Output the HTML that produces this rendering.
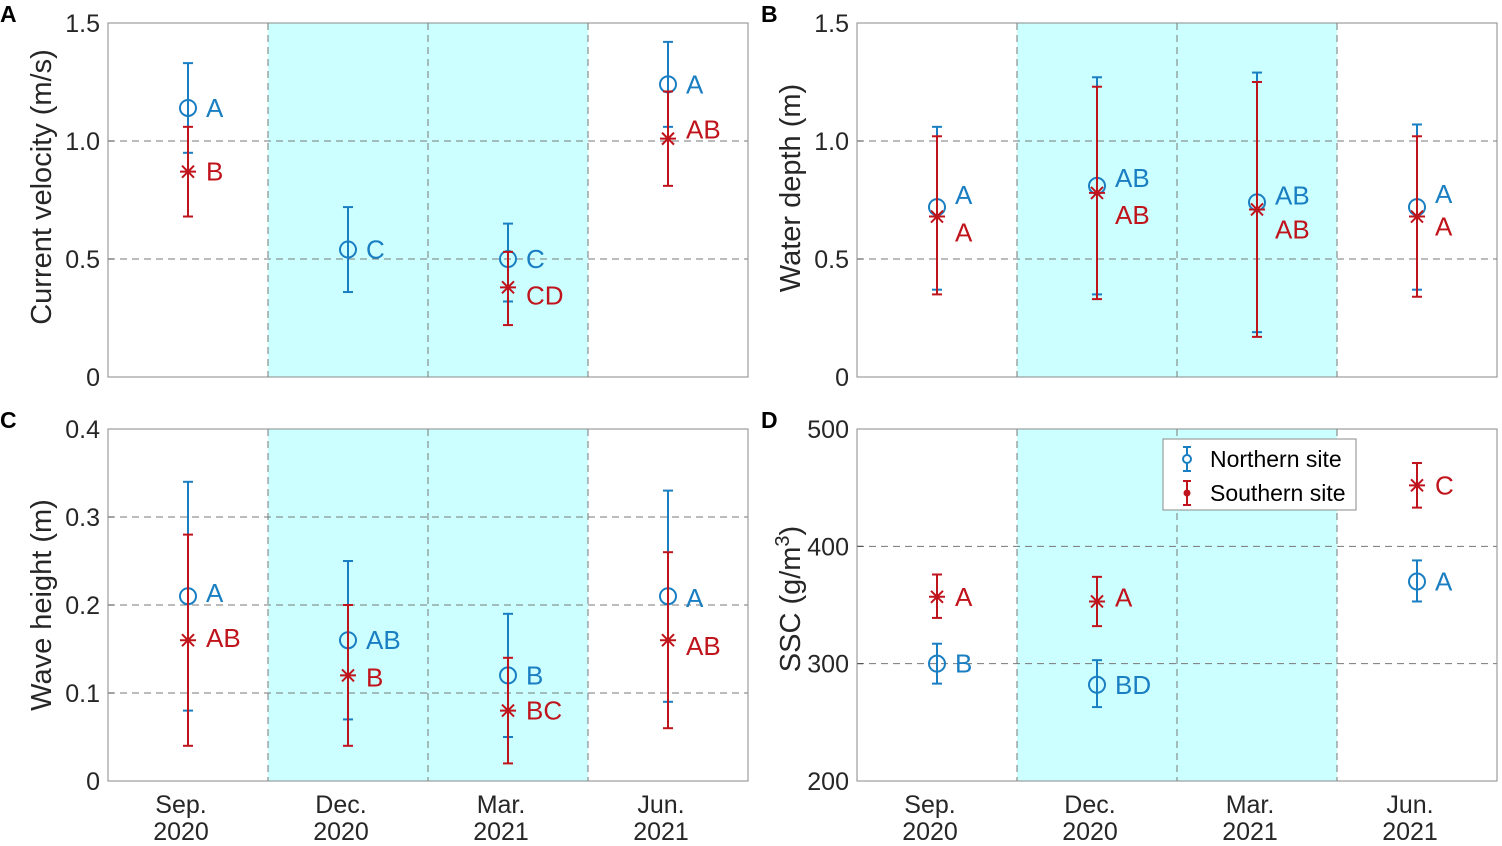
<!DOCTYPE html>
<html><head><meta charset="utf-8">
<style>
body{margin:0;background:#fff;}
svg{display:block;font-family:"Liberation Sans",Arial,sans-serif;}
</style></head>
<body>
<svg id="fig" width="1502" height="846" viewBox="0 0 1502 846"></svg>
<script>
const categories = ["Sep.|2020","Dec.|2020","Mar.|2021","Jun.|2021"];
// Panel A current velocity
const aNorth = [1.14,0.54,0.50,1.24];
const aNorthLo = [0.95,0.36,0.32,1.06];
const aNorthHi = [1.33,0.72,0.65,1.42];
const aNorthLbl = ["A","C","C","A"];
const aSouth = [0.87,null,0.38,1.01];
const aSouthLo = [0.68,null,0.22,0.81];
const aSouthHi = [1.06,null,0.53,1.21];
const aSouthLbl = ["B","","CD","AB"];
// Panel B water depth
const bNorth = [0.72,0.81,0.74,0.72];
const bNorthLo = [0.37,0.35,0.19,0.37];
const bNorthHi = [1.06,1.27,1.29,1.07];
const bNorthLbl = ["A","AB","AB","A"];
const bSouth = [0.68,0.78,0.71,0.68];
const bSouthLo = [0.35,0.33,0.17,0.34];
const bSouthHi = [1.02,1.23,1.25,1.02];
const bSouthLbl = ["A","AB","AB","A"];
// Panel C wave height
const cNorth = [0.21,0.16,0.12,0.21];
const cNorthLo = [0.08,0.07,0.05,0.09];
const cNorthHi = [0.34,0.25,0.19,0.33];
const cNorthLbl = ["A","AB","B","A"];
const cSouth = [0.16,0.12,0.08,0.16];
const cSouthLo = [0.04,0.04,0.02,0.06];
const cSouthHi = [0.28,0.20,0.14,0.26];
const cSouthLbl = ["AB","B","BC","AB"];
// Panel D SSC
const dNorth = [300,282,null,370];
const dNorthLo = [283,263,null,353];
const dNorthHi = [317,303,null,388];
const dNorthLbl = ["B","BD","","A"];
const dSouth = [357,353,null,452];
const dSouthLo = [339,332,null,433];
const dSouthHi = [376,374,null,471];
const dSouthLbl = ["A","A","","C"];

const NS="http://www.w3.org/2000/svg";
const svg=document.getElementById('fig');
const BLUE="#1a7fc2", RED="#c0141c";
function el(tag,attrs,parent){const e=document.createElementNS(NS,tag);for(const k in attrs)e.setAttribute(k,attrs[k]);(parent||svg).appendChild(e);return e;}

function panel(o){
  const g=el('g',{});
  
  
  const {x0,x1,y0,y1,min,max}=o;
  const sx=i=>x0+(i+0.5)*(x1-x0)/4;
  const sy=v=>y1-(v-min)/(max-min)*(y1-y0);
  const bg=el('rect',{x:(sx(0)+sx(1))/2,y:y0,width:sx(2)-sx(0),height:y1-y0,fill:"#ccffff"},g);
  
  
  for(let i=0;i<3;i++){const xx=(sx(i)+sx(i+1))/2;el('line',{x1:xx,x2:xx,y1:y0,y2:y1,stroke:"#777","stroke-dasharray":"7,5","stroke-width":1},g);}
  o.ticks.forEach(t=>{
    const y=sy(t);
    if(t>min&&t<max) el('line',{x1:x0,x2:x1,y1:y,y2:y,stroke:"#777","stroke-dasharray":"7,5","stroke-width":1},g);
    el('line',{x1:x0,x2:x0+6,y1:y,y2:y,stroke:"#444"},g);
    const tl=el('text',{x:x0-8,y:y+9,"text-anchor":"end","font-size":25,fill:"#262626"},g);
    tl.textContent=o.tickLabels[o.ticks.indexOf(t)];
    
    
  });
  el('rect',{x:x0,y:y0,width:x1-x0,height:y1-y0,fill:"none",stroke:"#8a8a8a","stroke-width":1},g);
  if(o.xlabels){categories.forEach((c,i)=>{
    const [a,b]=c.split('|');
    const t1=el('text',{x:sx(i)-7,y:y1+32,"text-anchor":"middle","font-size":25,fill:"#262626"},g);t1.textContent=a;
    
    
    const t2=el('text',{x:sx(i)-7,y:y1+59,"text-anchor":"middle","font-size":25,fill:"#262626"},g);t2.textContent=b;
  });}
  const yl=el('text',{transform:`translate(${x0-57},${(y0+y1)/2+o.tyOff}) rotate(-90)`,"text-anchor":"middle","font-size":29,fill:"#262626"},g);
  yl.innerHTML=o.ylabel;
  
  
  const pl=el('text',{x:x0-o.letterDx,y:y0-1,"font-size":23,"font-weight":"bold",fill:"#000"},g);
  pl.textContent=o.id.toUpperCase();
  
  
  function series(vals,lo,hi,lbl,col,marker,dy){
    vals.forEach((v,i)=>{
      if(v===null)return;
      const x=sx(i),y=sy(v);
      const s=el('g',{},g);
      
      
      el('line',{x1:x,x2:x,y1:sy(lo[i]),y2:sy(hi[i]),stroke:col,"stroke-width":2},s);
      [lo[i],hi[i]].forEach(e=>el('line',{x1:x-5,x2:x+5,y1:sy(e),y2:sy(e),stroke:col,"stroke-width":2},s));
      if(marker==='o') el('circle',{cx:x,cy:y,r:8,fill:"none",stroke:col,"stroke-width":2},s);
      else{const r=8;el('path',{d:`M${x-r},${y}H${x+r}M${x},${y-r}V${y+r}M${x-6},${y-6}L${x+6},${y+6}M${x-6},${y+6}L${x+6},${y-6}`,stroke:col,"stroke-width":2},s);}
      const t=el('text',{x:x+18,y:y+9+(dy?dy[i]:0),"font-size":26,fill:col},s);t.textContent=lbl[i];
    });
  }
  series(o.n[0],o.n[1],o.n[2],o.n[3],BLUE,'o',o.ndy);
  series(o.s[0],o.s[1],o.s[2],o.s[3],RED,'*',o.sdy);
  return g;
}
panel({id:'a',x0:108,x1:748,y0:23,y1:377,min:0,max:1.5,ticks:[0,0.5,1,1.5],tickLabels:["0","0.5","1.0","1.5"],ylabel:"Current velocity (m/s)",xlabels:false,tyOff:-13,letterDx:108,
  n:[aNorth,aNorthLo,aNorthHi,aNorthLbl],s:[aSouth,aSouthLo,aSouthHi,aSouthLbl],ndy:[0,0,0,0],sdy:[0,0,8,-9]});
panel({id:'b',x0:857,x1:1497,y0:23,y1:377,min:0,max:1.5,ticks:[0,0.5,1,1.5],tickLabels:["0","0.5","1.0","1.5"],ylabel:"Water depth (m)",xlabels:false,tyOff:-12,letterDx:96,
  n:[bNorth,bNorthLo,bNorthHi,bNorthLbl],s:[bSouth,bSouthLo,bSouthHi,bSouthLbl],ndy:[-12,-8,-7,-13],sdy:[16,22,20,10]});
panel({id:'c',x0:108,x1:748,y0:429,y1:781,min:0,max:0.4,ticks:[0,0.1,0.2,0.3,0.4],tickLabels:["0","0.1","0.2","0.3","0.4"],ylabel:"Wave height (m)",xlabels:true,tyOff:0,letterDx:108,
  n:[cNorth,cNorthLo,cNorthHi,cNorthLbl],s:[cSouth,cSouthLo,cSouthHi,cSouthLbl],ndy:[-3,0,0,2],sdy:[-2,2,0,6]});
panel({id:'d',x0:857,x1:1497,y0:429,y1:781,min:200,max:500,ticks:[200,300,400,500],tickLabels:["200","300","400","500"],ylabel:'SSC (g/m<tspan dy="-11" font-size="20">3</tspan><tspan dy="11">)</tspan>',xlabels:true,tyOff:-6,letterDx:96,
  n:[dNorth,dNorthLo,dNorthHi,dNorthLbl],s:[dSouth,dSouthLo,dSouthHi,dSouthLbl],ndy:[0,0,0,0],sdy:[0,-4,0,0]});

// legend
const lg=el('g',{});


el('rect',{x:1163,y:439,width:193,height:71,fill:"#fff",stroke:"#8a8a8a"},lg);
[[BLUE,'Northern site',459,'o'],[RED,'Southern site',493,'*']].forEach(([c,t,y,m])=>{
  const e=el('g',{},lg);
  
  
  el('line',{x1:1187,x2:1187,y1:y-12,y2:y+12,stroke:c,"stroke-width":2},e);
  el('line',{x1:1183,x2:1191,y1:y-12,y2:y-12,stroke:c,"stroke-width":2},e);
  el('line',{x1:1183,x2:1191,y1:y+12,y2:y+12,stroke:c,"stroke-width":2},e);
  if(m==='o')el('circle',{cx:1187,cy:y,r:4,fill:"#fff",stroke:c,"stroke-width":2},e);
  else el('circle',{cx:1187,cy:y,r:3.5,fill:c},e);
  const tx=el('text',{x:1210,y:y+8,"font-size":23,fill:"#000"},e);tx.textContent=t;
});
</script>
</body></html>
